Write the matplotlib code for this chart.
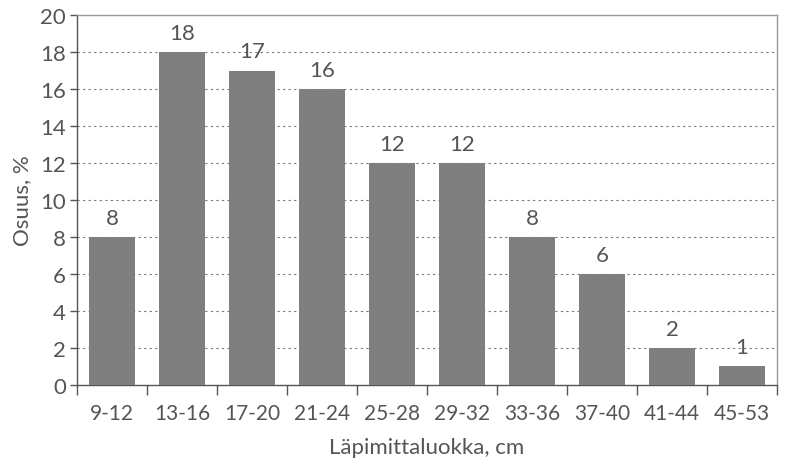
import numpy as np
import matplotlib
matplotlib.use('Agg')
import matplotlib.pyplot as plt

categories = ["9-12", "13-16", "17-20", "21-24", "25-28", "29-32",
              "33-36", "37-40", "41-44", "45-53"]
shares = [8, 18, 17, 16, 12, 12, 8, 6, 2, 1]
y_ticks = [0, 2, 4, 6, 8, 10, 12, 14, 16, 18, 20]

text_color = '#555555'
plt.rcParams['font.family'] = ['Lato', 'DejaVu Sans']

fig = plt.figure(figsize=(7.86, 4.6), dpi=100)
ax = fig.add_axes([0.098, 0.161, 0.8905, 0.804])

x = np.arange(len(categories))
ax.bar(x, shares, width=0.67, color='#7f7f7f', zorder=3)

for xi, v in zip(x, shares):
    ax.text(xi, v + 0.5, str(v), ha='center', va='bottom',
            fontsize=16, color=text_color)

ax.set_xlim(-0.5, len(categories) - 0.5)
ax.set_ylim(0, 20)
ax.set_yticks(y_ticks)
ax.set_yticklabels([str(t) for t in y_ticks], fontsize=16, color=text_color)

ax.set_xticks(x)
ax.set_xticklabels(categories, fontsize=15, color=text_color)
ax.tick_params(axis='x', length=0, pad=13)
ax.set_xticks(np.arange(-0.5, len(categories), 1.0), minor=True)
ax.tick_params(axis='x', which='minor', length=7, color='#555555', width=1)
ax.tick_params(axis='y', length=5, color='#555555', width=1, pad=3)

for t in y_ticks[1:-1]:
    ax.axhline(t, color='#777777', linestyle=(0, (2, 3)), linewidth=0.8, zorder=1)

for side in ['left', 'bottom']:
    ax.spines[side].set_color('#555555')
    ax.spines[side].set_linewidth(1.0)
for side in ['top', 'right']:
    ax.spines[side].set_color('#999999')
    ax.spines[side].set_linewidth(1.0)

ax.set_ylabel("Osuus, %", fontsize=16, color=text_color, labelpad=6)
ax.set_xlabel("Läpimittaluokka, cm", fontsize=16, color=text_color, labelpad=10)

fig.savefig("out.png", dpi=100)
